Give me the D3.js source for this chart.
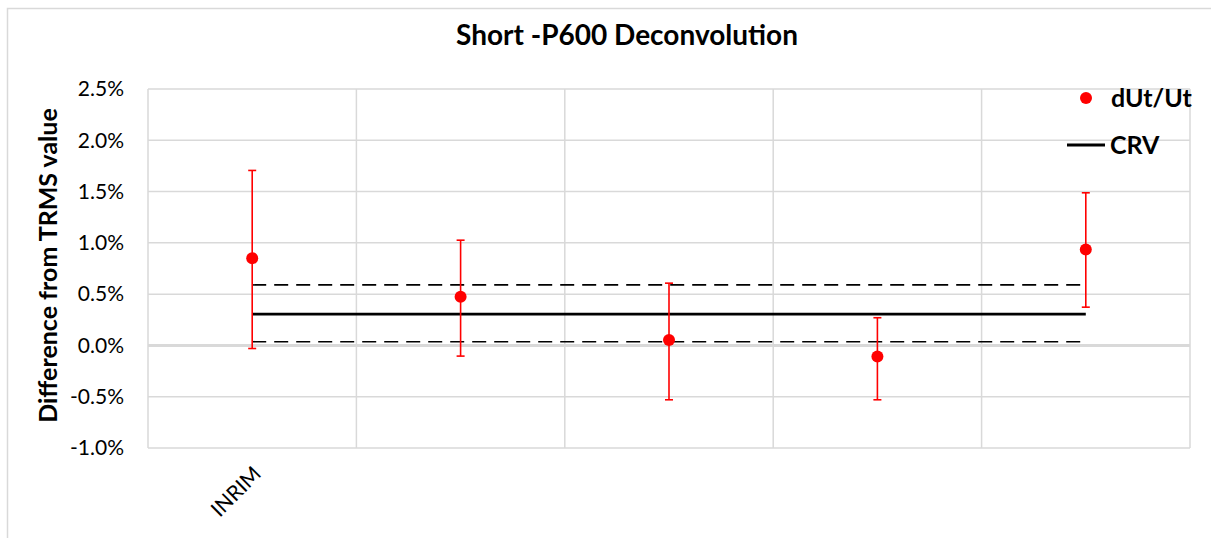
<!DOCTYPE html>
<html>
<head>
  <meta charset="utf-8">
  <script src="https://d3js.org/d3.v7.min.js"></script>
  <style>
    body { margin: 0; background: #fff; }
    svg { font-family: Lato, "Open Sans", sans-serif; }
  </style>
</head>
<body>
<div id="chart"></div>
<script>
// data (values in %)
const labels = ["INRIM", "", "", "", ""];
const dUt = [0.851, 0.475, 0.052, -0.107, 0.936];
const errHigh = [1.706, 1.026, 0.607, 0.270, 1.488];
const errLow = [-0.030, -0.104, -0.530, -0.530, 0.373];
const crv = 0.305;
const crvUpper = 0.590;
const crvLower = 0.036;
const yTicks = [-1.0, -0.5, 0.0, 0.5, 1.0, 1.5, 2.0, 2.5];

const W = 1211, H = 538;
const margin = {top: 89, right: 21, bottom: 89, left: 148};
const width = 1190 - margin.left, height = 448 - margin.top;

const svg = d3.select("#chart").append("svg")
  .attr("width", W).attr("height", H);

// outer chart frame
svg.append("rect")
  .attr("x", 7.5).attr("y", 8.5)
  .attr("width", W).attr("height", H)
  .attr("fill", "none").attr("stroke", "#d9d9d9").attr("stroke-width", 1.5);

svg.append("text")
  .attr("x", 627).attr("y", 45)
  .attr("text-anchor", "middle")
  .style("font-size", "28px").style("font-weight", "bold")
  .text("Short -P600 Deconvolution");

const g = svg.append("g").attr("transform", `translate(${margin.left},${margin.top})`);

const x = d3.scaleBand().domain(d3.range(labels.length)).range([0, width]);
const y = d3.scaleLinear().domain([-1.0, 2.5]).range([height, 0]);
const cx = i => x(i) + x.bandwidth() / 2;

// horizontal grid
g.selectAll(".hgrid").data(yTicks).join("line")
  .attr("x1", 0).attr("x2", width)
  .attr("y1", d => y(d)).attr("y2", d => y(d))
  .attr("stroke", "#d9d9d9").attr("stroke-width", d => d === 0 ? 3 : 1.5);

// vertical grid at band edges
const edges = d3.range(labels.length + 1).map(i => i * x.step());
g.selectAll(".vgrid").data(edges).join("line")
  .attr("x1", d => d).attr("x2", d => d)
  .attr("y1", 0).attr("y2", height)
  .attr("stroke", "#d9d9d9").attr("stroke-width", 1.5);

// y axis labels
const yAxis = g.append("g")
  .call(d3.axisLeft(y).tickValues(yTicks).tickSize(0).tickPadding(24)
    .tickFormat(d => d.toFixed(1) + "%"));
yAxis.select(".domain").remove();
yAxis.selectAll("text").style("font-size", "21px").style("font-family", "Lato, sans-serif").attr("fill", "#000");

// x axis labels (rotated)
const xAxis = g.append("g").attr("transform", `translate(0,${height})`)
  .call(d3.axisBottom(x).tickSize(0).tickFormat(i => labels[i]));
xAxis.select(".domain").remove();
xAxis.selectAll("text")
  .style("font-size", "21px").style("font-family", "Lato, sans-serif").attr("fill", "#000")
  .attr("text-anchor", "end")
  .attr("transform", "translate(5,22) rotate(-45)")
  .attr("dy", "0.35em").attr("y", 0);

// axis title
svg.append("text")
  .attr("transform", `translate(57,${margin.top + height / 2 - 3}) rotate(-90)`)
  .attr("text-anchor", "middle")
  .style("font-size", "25px").style("font-weight", "bold")
  .text("Difference from TRMS value");

// CRV lines
const x0 = cx(0), x1 = cx(labels.length - 1);
g.append("line")
  .attr("x1", x0).attr("x2", x1).attr("y1", y(crvUpper)).attr("y2", y(crvUpper))
  .attr("stroke", "#000").attr("stroke-width", 1.6).attr("stroke-dasharray", "14,8");
g.append("line")
  .attr("x1", x0).attr("x2", x1).attr("y1", y(crvLower)).attr("y2", y(crvLower))
  .attr("stroke", "#000").attr("stroke-width", 1.6).attr("stroke-dasharray", "14,8");
g.append("line")
  .attr("x1", x0).attr("x2", x1).attr("y1", y(crv)).attr("y2", y(crv))
  .attr("stroke", "#000").attr("stroke-width", 2.8);

// error bars
const eb = g.selectAll(".err").data(dUt).join("g");
eb.append("line")
  .attr("x1", (d, i) => cx(i)).attr("x2", (d, i) => cx(i))
  .attr("y1", (d, i) => y(errHigh[i])).attr("y2", (d, i) => y(errLow[i]))
  .attr("stroke", "#ff0000").attr("stroke-width", 1.6);
eb.append("line")
  .attr("x1", (d, i) => cx(i) - 4).attr("x2", (d, i) => cx(i) + 4)
  .attr("y1", (d, i) => y(errHigh[i])).attr("y2", (d, i) => y(errHigh[i]))
  .attr("stroke", "#ff0000").attr("stroke-width", 1.6);
eb.append("line")
  .attr("x1", (d, i) => cx(i) - 4).attr("x2", (d, i) => cx(i) + 4)
  .attr("y1", (d, i) => y(errLow[i])).attr("y2", (d, i) => y(errLow[i]))
  .attr("stroke", "#ff0000").attr("stroke-width", 1.6);

// points
g.selectAll(".pt").data(dUt).join("circle")
  .attr("cx", (d, i) => cx(i)).attr("cy", d => y(d))
  .attr("r", 6).attr("fill", "#ff0000");

// legend
const leg = svg.append("g");
leg.append("circle").attr("cx", 1086).attr("cy", 98).attr("r", 6).attr("fill", "#ff0000");
leg.append("text").attr("x", 1111).attr("y", 107)
  .style("font-size", "25px").style("font-weight", "bold").text("dUt/Ut");
leg.append("line").attr("x1", 1067).attr("x2", 1105).attr("y1", 145).attr("y2", 145)
  .attr("stroke", "#000").attr("stroke-width", 2.8);
leg.append("text").attr("x", 1110).attr("y", 154)
  .style("font-size", "25px").style("font-weight", "bold").text("CRV");
</script>
</body>
</html>
